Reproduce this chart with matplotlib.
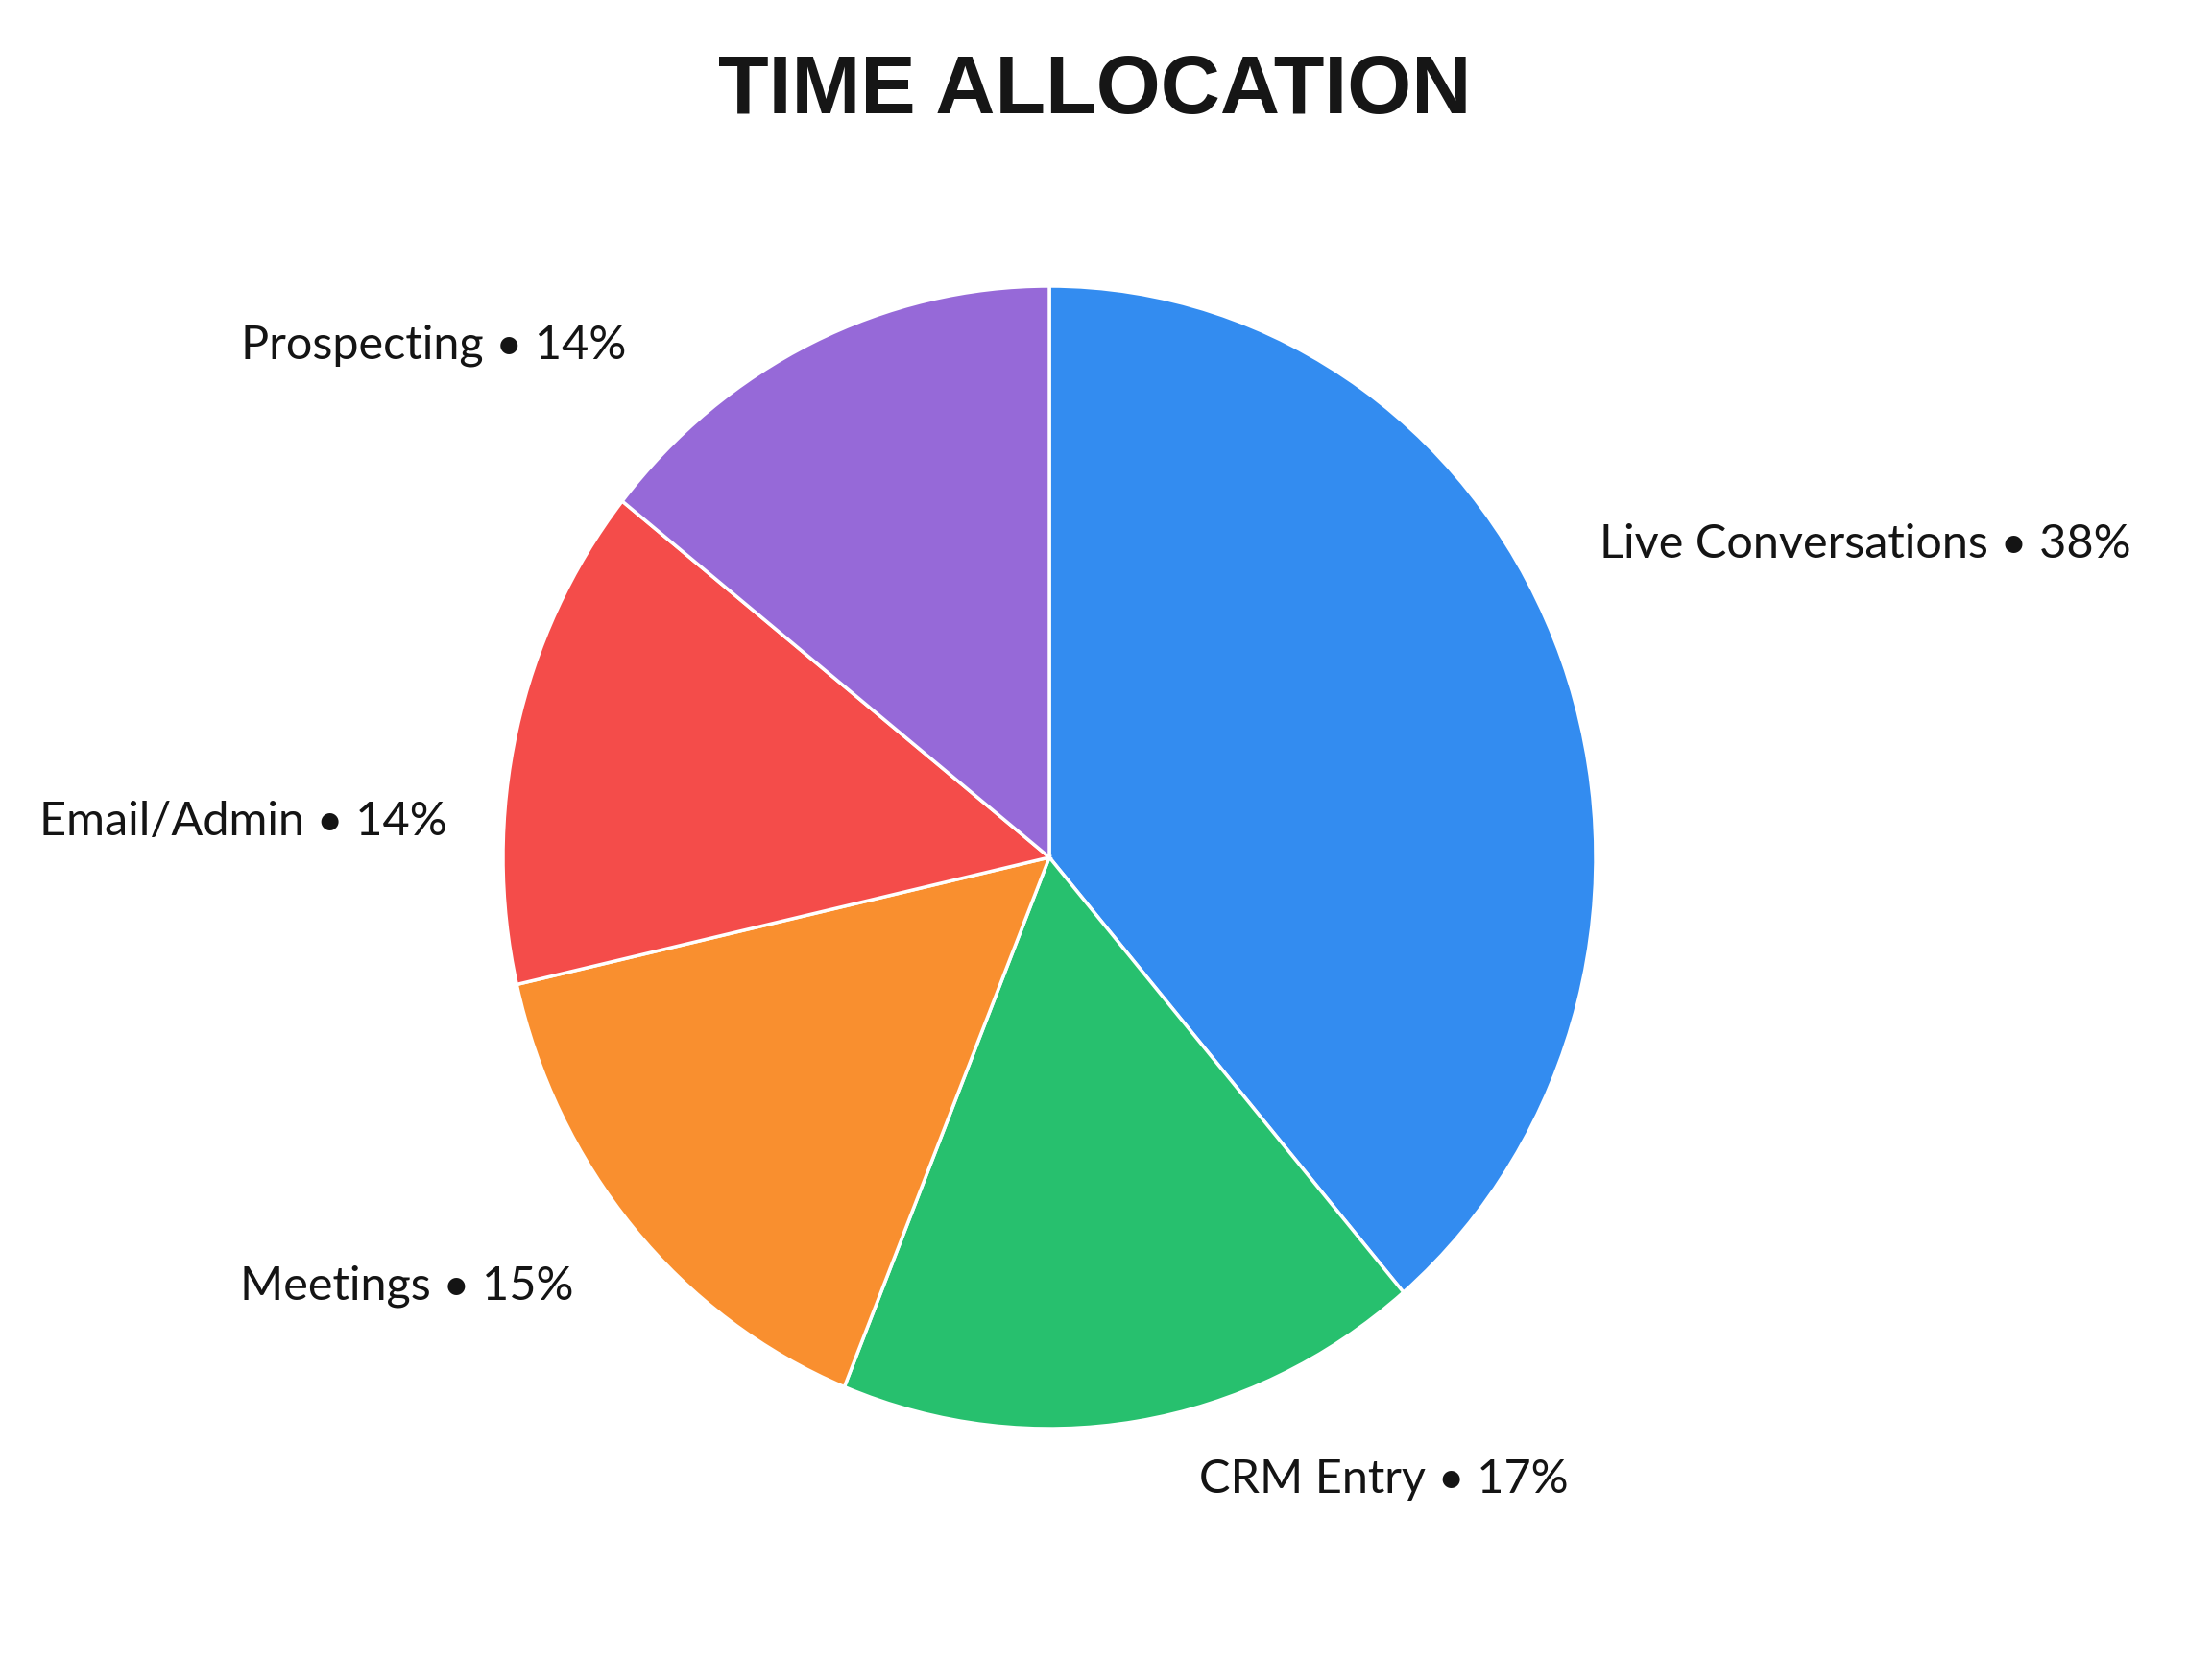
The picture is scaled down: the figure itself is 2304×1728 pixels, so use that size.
import matplotlib
matplotlib.use("Agg")
import matplotlib.pyplot as plt

categories = ["Live Conversations", "CRM Entry", "Meetings", "Email/Admin", "Prospecting"]
values = [38, 17, 15, 14, 14]
colors = ["#338CF0", "#27C06E", "#F98F2F", "#F44C4A", "#9669D8"]
title = "TIME ALLOCATION"

# label anchor positions in pixels (left edge, baseline)
label_pos = {
    "Live Conversations": (1666, 581),
    "CRM Entry": (1249, 1555),
    "Meetings": (250, 1354),
    "Email/Admin": (41, 870),
    "Prospecting": (251, 374),
}

W, H = 2304, 1728
fig = plt.figure(figsize=(W / 100, H / 100), dpi=100, facecolor="white")

# axes placed so the pie centre / radii match the reference
cx, cy, rx, ry = 1093, 893, 569, 595
lim = 1.2
aw, ah = 2 * lim * rx, 2 * lim * ry
ax = fig.add_axes([(cx - aw / 2) / W, 1 - (cy + ah / 2) / H, aw / W, ah / H])
ax.pie(values, colors=colors, startangle=90, counterclock=False,
       wedgeprops=dict(edgecolor="white", linewidth=2.5))
ax.set_aspect("auto")
ax.set_xlim(-lim, lim)
ax.set_ylim(-lim, lim)
ax.axis("off")

fig.text(1140 / W, 1 - 96 / H, title, ha="center", va="center",
         fontsize=62, fontweight="bold", family="Liberation Sans", color="#161616")

for cat, v in zip(categories, values):
    x, y = label_pos[cat]
    fig.text(x / W, 1 - y / H, f"{cat} \u2022 {v}%", ha="left", va="baseline",
             fontsize=35, family=["Lato", "DejaVu Sans"], color="#141414")

fig.savefig("out.png", dpi=100, facecolor="white")
